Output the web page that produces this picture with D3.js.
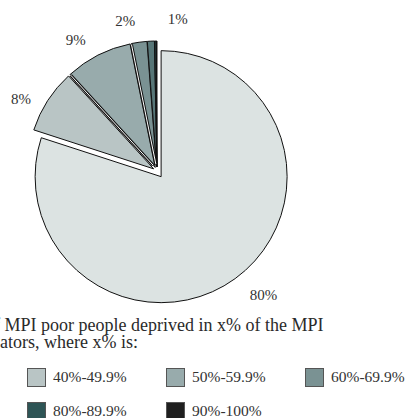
<!DOCTYPE html>
<html>
<head>
<meta charset="utf-8">
<script src="https://cdn.jsdelivr.net/npm/d3@7"></script>
<style>
	body { margin: 0; background: #fff; }
	svg { display: block; }
	text { font-family: "Liberation Serif", "Times New Roman", Times, serif; }
</style>
</head>
<body>
<div id="chart"></div>
<script>
// deprivation bands (share of MPI indicators)
const categories = ['33.3%-39.9%', '40%-49.9%', '50%-59.9%', '60%-69.9%', '70%-79.9%', '80%-89.9%', '90%-100%'];
// share of MPI poor people in each band (%)
const shares = [80, 8.2, 8.6, 2.0, 0.9, 0.2, 0.1];
const colors = ['#dce3e2', '#b9c5c5', '#98abac', '#7a9293', '#577677', '#2e5556', '#1f1f1f'];
const titleLines = ['Share of MPI poor people deprived in x% of the MPI', 'indicators, where x% is:'];
// part of each title line that falls off the left edge
const titleCut = ['Share of ', 'indic'];

const width = 406;
const height = 418;
const FONT = '"Liberation Serif", "Times New Roman", Times, serif';

const svg = d3.select('#chart')
	.append('svg')
	.attr('width', width)
	.attr('height', height)
	.attr('font-family', FONT);

const cx = 157;
const cy = 171;
const radius = 126;

const pie = d3.pie()
	.sort(null)
	.value((d) => d);

const arcs = pie(shares);
const arc = d3.arc().innerRadius(0).outerRadius(radius);

const mid = (d) => (d.startAngle + d.endAngle) / 2;
const polar = (a, r) => [Math.sin(a) * r, -Math.cos(a) * r];
const deg = Math.PI / 180;

// big slice pulled out a bit more than the rest
const explode = (d, i) => i === 0 ? 7 : 4;
const shift = (d, i) => {
	const p = polar(mid(d), explode(d, i));
	return `translate(${p[0]},${p[1]})`;
};

const slices = svg.append('g')
	.attr('transform', `translate(${cx},${cy})`);

slices.selectAll('path.slice')
	.data(arcs)
	.enter()
	.append('path')
	.attr('class', 'slice')
	.attr('transform', shift)
	.attr('d', arc)
	.style('fill', (d, i) => colors[i])
	.style('stroke', '#111')
	.style('stroke-width', 1);

// thin white seam between the larger small slices
const seams = arcs.filter((d, i) => i >= 2 && d.value >= 1);
[['#111', 3], ['#fff', 1]].forEach(([c, w]) => {
	slices.selectAll(null)
		.data(seams)
		.enter()
		.append('line')
		.attr('transform', (d) => shift(d, d.index))
		.attr('x1', (d) => polar(d.startAngle, 3)[0])
		.attr('y1', (d) => polar(d.startAngle, 3)[1])
		.attr('x2', (d) => polar(d.startAngle, radius - 1)[0])
		.attr('y2', (d) => polar(d.startAngle, radius - 1)[1])
		.style('stroke', c)
		.style('stroke-width', w);
});

// labels, pushed apart so small slices don't collide
const labelled = arcs
	.map((d, i) => ({ d, i, a: mid(d) - 5 * deg }))
	.filter((o) => o.d.value >= 0.5);

const minGap = 20 * deg;
for (let k = 2; k < labelled.length; k++) {
	if (labelled[k].a - labelled[k - 1].a < minGap) {
		labelled[k].a = labelled[k - 1].a + minGap;
	}
}

const labelPos = (o) => {
	const e = polar(mid(o.d), explode(o.d, o.i));
	const p = polar(o.a, o.i === 0 ? 156 : 150);
	return [e[0] + p[0], e[1] + p[1]];
};

slices.selectAll('text.lbl')
	.data(labelled)
	.enter()
	.append('text')
	.attr('class', 'lbl')
	.attr('x', (o) => labelPos(o)[0])
	.attr('y', (o) => labelPos(o)[1])
	.attr('text-anchor', 'middle')
	.attr('dy', '0.35em')
	.attr('font-size', 15)
	.style('fill', '#333')
	.text((o) => `${Math.round(o.d.value)}%`);

// legend
const legend = svg.append('g');

const title = legend.selectAll('text.title')
	.data(titleLines)
	.enter()
	.append('text')
	.attr('class', 'title')
	.attr('y', (d, i) => 331 + i * 17)
	.attr('font-size', 18)
	.style('fill', '#2a2a2a')
	.text((d) => d);

// the chart is cropped at the left edge
title.attr('x', (d, i) => {
	const probe = svg.append('text').attr('font-size', 18).text(titleCut[i]);
	const w = probe.node().getComputedTextLength();
	probe.remove();
	return -w;
});

const colW = 139;
const rowH = 34;
const legendX = 27 - colW;
const legendY = 368;

const item = legend.selectAll('g.item')
	.data(categories)
	.enter()
	.append('g')
	.attr('class', 'item')
	.attr('transform', (d, i) => `translate(${legendX + (i % 4) * colW},${legendY + Math.floor(i / 4) * rowH})`);

item.append('rect')
	.attr('x', 0.5)
	.attr('y', 0.5)
	.attr('width', 18)
	.attr('height', 18)
	.style('fill', (d, i) => colors[i])
	.style('stroke', '#555')
	.style('stroke-width', 1);

item.append('text')
	.attr('x', 26)
	.attr('y', 9)
	.attr('dy', '0.35em')
	.attr('font-size', 15.5)
	.style('fill', '#333')
	.text((d) => d);
</script>
</body>
</html>
